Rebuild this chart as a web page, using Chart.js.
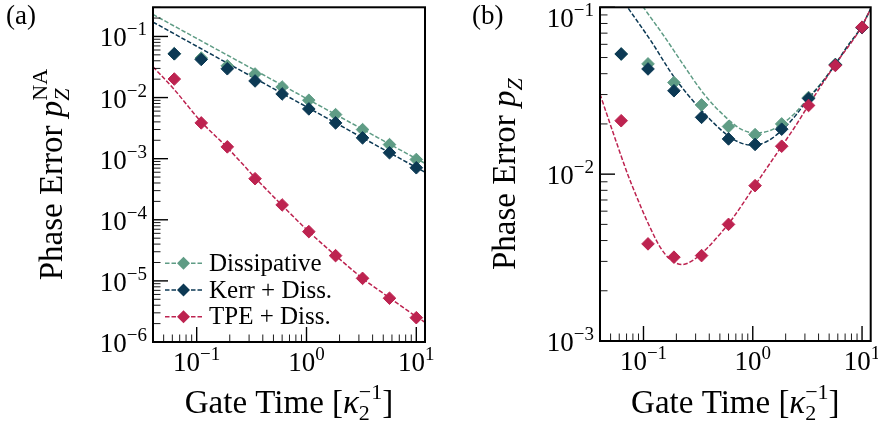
<!DOCTYPE html>
<html>
<head>
<meta charset="utf-8">
<script src="https://cdn.jsdelivr.net/npm/chart.js@4.4.1/dist/chart.umd.min.js"></script>
<style>
  body { margin: 0; background: #fff; }
  #wrap { display: flex; width: 878px; height: 428px; }
  canvas { display: block; }
</style>
</head>
<body>
<div id="wrap">
  <canvas id="chart-a" width="440" height="428"></canvas>
  <canvas id="chart-b" width="438" height="428"></canvas>
</div>
<script>
// gate times of the simulated points (kappa_2^-1)
const gateTimes = [0.0625, 0.11, 0.19, 0.34, 0.6, 1.05, 1.84, 3.24, 5.7, 10];

// panel (a): non-adiabatic phase error
const dissA = [0.052, 0.0443, 0.0331, 0.0243, 0.0149, 0.00904, 0.00526, 0.00299, 0.0017, 0.00097];
const kerrA = [0.052, 0.042, 0.0296, 0.0187, 0.01146, 0.00652, 0.00385, 0.00219, 0.00125, 0.00071];
const tpeA  = [0.0201, 0.00385, 0.00156, 0.00047, 0.000175, 6.4e-5, 2.59e-5, 1.1e-5, 5.2e-6, 2.5e-6];

const fitTimesA = [0.04, 0.1, 0.3, 1, 3, 10, 12];
const dissFitA  = [0.229, 0.0929, 0.0316, 0.00964, 0.00327, 0.001, 0.00084];
const kerrFitA  = [0.172, 0.0692, 0.0233, 0.00705, 0.00237, 0.000718, 0.0006];
const tpeFitTimesA = [0.04, 0.0625, 0.11, 0.19, 0.34, 0.6, 1.05, 1.84, 3.24, 5.7, 10, 12];
const tpeFitA      = [0.032, 0.0135, 0.0040, 0.00152, 0.00049, 0.000172, 6.4e-5, 2.6e-5, 1.1e-5, 5.3e-6, 2.6e-6, 2.1e-6];

// panel (b): total phase error
const dissB = [0.0525, 0.0458, 0.0354, 0.026, 0.0193, 0.01725, 0.020, 0.0288, 0.0455, 0.0757];
const kerrB = [0.0525, 0.0427, 0.0316, 0.0219, 0.01626, 0.01507, 0.0186, 0.0284, 0.0452, 0.0755];
const tpeB  = [0.0209, 0.00382, 0.00318, 0.00325, 0.0050, 0.00853, 0.0147, 0.0258, 0.0448, 0.076];

const dissFitTimesB = [0.04, 0.1, 0.154, 0.234, 0.355, 0.59, 0.794, 1.036, 1.39, 1.81, 2.43, 3.16, 4.24, 5.61, 7.41, 9.79, 12];
const dissFitB      = [0.25, 0.1, 0.0673, 0.0448, 0.0304, 0.0214, 0.0185, 0.0177, 0.0181, 0.0198, 0.0232, 0.0282, 0.0352, 0.045, 0.059, 0.0757, 0.098];
const kerrFitTimesB = [0.04, 0.0716, 0.117, 0.19, 0.333, 0.581, 0.794, 1.036, 1.39, 1.81, 2.43, 3.16, 4.24, 5.61, 7.41, 9.79, 12];
const kerrFitB      = [0.18, 0.1, 0.0629, 0.0383, 0.0245, 0.0172, 0.0153, 0.0149, 0.0159, 0.0181, 0.0222, 0.0278, 0.0349, 0.0448, 0.0587, 0.0755, 0.098];
const tpeFitTimesB  = [0.04, 0.0541, 0.0716, 0.0882, 0.1087, 0.144, 0.1774, 0.2265, 0.289, 0.382, 0.505, 0.623, 1.167, 1.84, 2.43, 3.19, 5.61, 9.79, 12];
const tpeFitB       = [0.0302, 0.01687, 0.01, 0.00711, 0.00518, 0.0036, 0.00307, 0.00287, 0.00307, 0.0036, 0.0044, 0.0052, 0.0095, 0.0147, 0.0192, 0.0255, 0.0448, 0.0755, 0.098];

// tick labels (powers of ten)
const xTickExps  = [-1, 0, 1];
const yTickExpsA = [-6, -5, -4, -3, -2, -1];
const yTickExpsB = [-3, -2, -1];

const legendLabels = ['Dissipative', 'Kerr + Diss.', 'TPE + Diss.'];

const GREEN = '#5f9c85';
const NAVY = '#0c3954';
const RED = '#bd2350';
const FONT = '"Liberation Serif", "DejaVu Serif", serif';

function pts(xs, ys) {
    return xs.map((x, i) => ({x: x, y: ys[i]}));
}

// lower order is painted on top
function fitSet(xs, ys, color, order) {
    return {
        data: pts(xs, ys),
        order: order,
        showLine: true,
        borderColor: color,
        borderWidth: 1.5,
        borderDash: [4.5, 2],
        pointRadius: 0,
        cubicInterpolationMode: 'monotone'
    };
}

function markSet(ys, color, order) {
    return {
        data: pts(gateTimes, ys),
        order: order,
        showLine: false,
        pointStyle: 'rectRot',
        pointRadius: 6.3,
        backgroundColor: color,
        borderColor: color,
        borderWidth: 1
    };
}

// text made of runs: {t, s (px), it, dy, over (stack on previous run)}
function drawRich(ctx, parts, x, y, align) {
    let w = 0, prevStart = 0;
    const runs = parts.map(p => {
        ctx.font = (p.it ? 'italic ' : '') + p.s + 'px ' + FONT;
        const pw = ctx.measureText(p.t).width;
        let start;
        if (p.over) {
            start = prevStart;
            w = Math.max(w, start + pw);
        } else {
            start = w;
            w = start + pw;
        }
        prevStart = start;
        return {p: p, start: start};
    });
    let x0 = x;
    if (align === 'center') x0 = x - w / 2;
    if (align === 'right') x0 = x - w;
    ctx.textAlign = 'left';
    ctx.textBaseline = 'alphabetic';
    runs.forEach(r => {
        ctx.font = (r.p.it ? 'italic ' : '') + r.p.s + 'px ' + FONT;
        ctx.fillText(r.p.t, x0 + r.start, y + (r.p.dy || 0));
    });
}

function powLabel(e) {
    const exp = e < 0 ? '\u2212' + (-e) : String(e);
    return [{t: '10', s: 27}, {t: exp, s: 19, dy: -11}];
}

function drawLogTicks(ctx, scale, area, axis) {
    const lo = Math.floor(Math.log10(scale.min));
    const hi = Math.ceil(Math.log10(scale.max));
    ctx.strokeStyle = '#000';
    for (let k = lo; k <= hi; k++) {
        for (let m = 1; m <= 9; m++) {
            const v = m * Math.pow(10, k);
            if (v < scale.min * 0.999 || v > scale.max * 1.001) continue;
            const len = m === 1 ? 15 : 7.5;
            const p = scale.getPixelForValue(v);
            ctx.lineWidth = m === 1 ? 1.4 : 0.9;
            ctx.beginPath();
            if (axis === 'x') {
                ctx.moveTo(p, area.bottom);
                ctx.lineTo(p, area.bottom - len);
            } else {
                ctx.moveTo(area.left, p);
                ctx.lineTo(area.left + len, p);
            }
            ctx.stroke();
        }
    }
}

const xTitle = [
    {t: 'Gate Time [', s: 33},
    {t: '\u03ba', s: 33, it: true},
    {t: '2', s: 22, dy: 7},
    {t: '\u22121', s: 22, dy: -14, over: true},
    {t: ']', s: 33}
];

function axesPlugin(opts) {
    return {
        id: 'axes' + opts.tag,
        afterDraw(chart) {
            const ctx = chart.ctx;
            const area = chart.chartArea;
            const xs = chart.scales.x, ys = chart.scales.y;
            ctx.save();
            ctx.fillStyle = '#000';

            drawLogTicks(ctx, xs, area, 'x');
            drawLogTicks(ctx, ys, area, 'y');

            ctx.lineWidth = 2;
            ctx.strokeStyle = '#000';
            ctx.strokeRect(area.left, area.top, area.right - area.left, area.bottom - area.top);

            xTickExps.forEach(e => {
                drawRich(ctx, powLabel(e), xs.getPixelForValue(Math.pow(10, e)), area.bottom + 29, 'center');
            });
            opts.yExps.forEach(e => {
                // keep the top label inside the canvas
                const base = Math.max(ys.getPixelForValue(Math.pow(10, e)) + 10, area.top + 20);
                drawRich(ctx, powLabel(e), area.left - 6, base, 'right');
            });

            drawRich(ctx, xTitle, (area.left + area.right) / 2, 413, 'center');

            ctx.save();
            ctx.translate(opts.yTitleX, (area.top + area.bottom) / 2);
            ctx.rotate(-Math.PI / 2);
            drawRich(ctx, opts.yTitle, 0, 0, 'center');
            ctx.restore();

            drawRich(ctx, [{t: opts.tag, s: 27}], opts.tagX, 24, 'left');

            if (opts.legend) {
                const colors = [GREEN, NAVY, RED];
                legendLabels.forEach((lab, i) => {
                    const cy = 263.3 + i * 26.7;
                    ctx.strokeStyle = colors[i];
                    ctx.lineWidth = 1.5;
                    ctx.setLineDash([4.5, 2]);
                    ctx.beginPath();
                    ctx.moveTo(165, cy);
                    ctx.lineTo(202, cy);
                    ctx.stroke();
                    ctx.setLineDash([]);
                    ctx.fillStyle = colors[i];
                    ctx.beginPath();
                    ctx.moveTo(183.5, cy - 6.5);
                    ctx.lineTo(190, cy);
                    ctx.lineTo(183.5, cy + 6.5);
                    ctx.lineTo(177, cy);
                    ctx.closePath();
                    ctx.fill();
                    ctx.fillStyle = '#000';
                    drawRich(ctx, [{t: lab, s: 25}], 209, cy + 7.5, 'left');
                });
            }
            ctx.restore();
        }
    };
}

function makeChart(id, datasets, pad, yMin, yMax, opts) {
    return new Chart(document.getElementById(id), {
        type: 'scatter',
        data: {datasets: datasets},
        options: {
            responsive: false,
            animation: false,
            devicePixelRatio: 1,
            layout: {padding: pad},
            plugins: {legend: {display: false}, tooltip: {enabled: false}},
            scales: {
                x: {type: 'logarithmic', min: 0.04, max: 12, display: false},
                y: {type: 'logarithmic', min: yMin, max: yMax, display: false}
            }
        },
        plugins: [axesPlugin(opts)]
    });
}

const chartA = makeChart('chart-a', [
    fitSet(fitTimesA, dissFitA, GREEN, 5),
    fitSet(fitTimesA, kerrFitA, NAVY, 4),
    fitSet(tpeFitTimesA, tpeFitA, RED, 3),
    markSet(dissA, GREEN, 2),
    markSet(kerrA, NAVY, 1),
    markSet(tpeA, RED, 0)
], {left: 153, right: 15, top: 4, bottom: 86}, 1e-6, 0.3, {
    tag: '(a)', tagX: 6, yExps: yTickExpsA, yTitleX: 62, legend: true,
    yTitle: [
        {t: 'Phase Error ', s: 33},
        {t: 'p', s: 33, it: true},
        {t: 'Z', s: 22, it: true, dy: 7},
        {t: 'NA', s: 22, dy: -15, over: true}
    ]
});

const chartB = makeChart('chart-b', [
    fitSet(dissFitTimesB, dissFitB, GREEN, 5),
    fitSet(kerrFitTimesB, kerrFitB, NAVY, 4),
    fitSet(tpeFitTimesB, tpeFitB, RED, 3),
    markSet(dissB, GREEN, 2),
    markSet(kerrB, NAVY, 1),
    markSet(tpeB, RED, 0)
], {left: 160, right: 5, top: 3, bottom: 87}, 1e-3, 0.1, {
    tag: '(b)', tagX: 32, yExps: yTickExpsB, yTitleX: 75, legend: false,
    yTitle: [
        {t: 'Phase Error ', s: 33},
        {t: 'p', s: 33, it: true},
        {t: 'Z', s: 22, it: true, dy: 7}
    ]
});
</script>
</body>
</html>
